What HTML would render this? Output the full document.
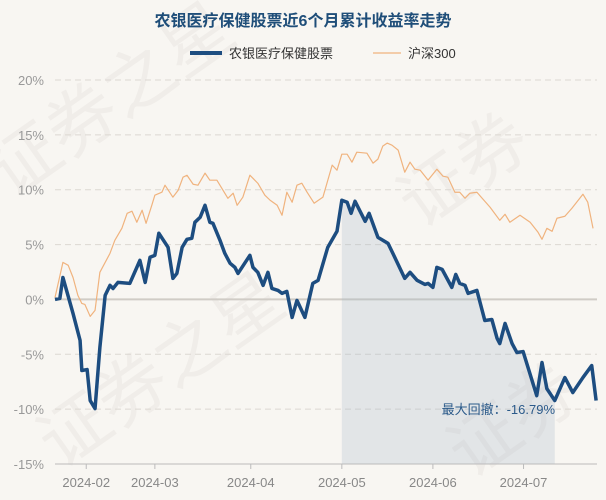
<!DOCTYPE html>
<html><head><meta charset="utf-8">
<style>
html,body{margin:0;padding:0;background:#f8f6f2;}
svg{display:block;font-family:"Liberation Sans","Noto Sans CJK SC",sans-serif;}
</style></head>
<body>
<svg id="chart" width="606" height="500" viewBox="0 0 606 500">
<rect width="606" height="500" fill="#f8f6f2"/>
<g fill="#f0ede9" font-size="70">
<text x="10" y="200" transform="rotate(-35 10 200)">证券之星</text>
<text x="60" y="470" transform="rotate(-35 60 470)">证券之星</text>
<text x="420" y="230" transform="rotate(-35 420 230)">证券</text>
<text x="470" y="480" transform="rotate(-35 470 480)">证券</text>
</g>
<text x="303" y="26" text-anchor="middle" font-size="16" font-weight="bold" fill="#1f4e79">农银医疗保健股票近6个月累计收益率走势</text>
<g>
<g><line x1="190" y1="53" x2="222" y2="53" stroke="#1d4d80" stroke-width="4"/><text x="229" y="58" font-size="13" fill="#333">农银医疗保健股票</text></g>
<g><line x1="373" y1="53" x2="401" y2="53" stroke="#f0b37e" stroke-width="1.2"/><text x="408" y="58" font-size="13" fill="#333">沪深300</text></g>
</g>
<g id="grid"></g><g id="fill"></g><g id="series"></g><g id="axes"></g>
<text x="555" y="414" text-anchor="end" font-size="13" fill="#2b5a8a">最大回撤：-16.79%</text>
</svg>
<script>
const yTicks=[20,15,10,5,0,-5,-10,-15];
const xTickLabels=["2024-02","2024-03","2024-04","2024-05","2024-06","2024-07"];
const xTickDays=[7.1,22.7,44.5,65.2,85.9,106.5];
const fundDays=[0,1.1,1.8,4.1,5.7,6.1,7.3,8.0,9.1,10.2,11.4,12.5,13.2,14.3,17.0,19.3,20.5,21.6,22.7,23.6,25.7,26.8,27.7,28.9,30.0,31.1,31.8,33.0,34.1,35.2,35.9,37.5,38.6,39.8,40.9,41.6,44.3,45.0,46.1,47.3,48.4,49.3,50.7,51.6,52.7,53.9,55.0,56.8,58.6,59.8,62.0,64.1,65.2,66.4,67.3,68.2,70.5,71.4,73.4,75.7,76.8,79.5,80.7,82.3,84.1,84.8,85.9,86.8,88.0,90.2,91.1,92.0,93.2,93.9,95.9,97.7,99.3,100.5,101.1,102.3,103.9,105.0,106.4,109.5,110.7,111.8,113.6,115.9,117.7,120.0,122.0,123.0];
const fundValues=[0,0.09,2.0,-1.28,-3.74,-6.48,-6.39,-9.22,-9.95,-4.38,0.37,1.28,1.0,1.55,1.46,3.56,1.55,3.84,4.02,6.03,4.75,1.92,2.37,4.75,5.48,5.57,7.03,7.49,8.58,7.03,6.94,5.39,4.2,3.29,2.92,2.37,4.02,2.92,2.47,1.28,2.47,1.0,0.82,0.55,0.73,-1.64,-0.09,-1.64,1.46,1.74,4.75,6.21,9.04,8.86,7.85,8.95,7.12,7.85,5.66,5.11,4.2,1.92,2.47,1.74,1.37,1.46,1.1,2.92,2.74,1.1,2.28,1.46,1.28,0.55,0.82,-1.92,-1.83,-3.56,-4.02,-2.19,-4.02,-4.84,-4.75,-8.77,-5.75,-8.13,-9.22,-7.12,-8.49,-7.12,-6.03,-9.22];
const hsDays=[0,1.8,3.0,4.1,5.2,6.1,6.8,8.0,9.1,10.2,12.5,13.6,15.2,16.4,17.5,18.6,19.8,20.7,22.0,22.7,24.3,25.0,26.8,28.0,29.1,30.0,31.4,32.5,34.1,35.2,36.8,38.2,39.3,40.5,41.4,42.7,44.3,46.1,47.7,48.9,50.5,51.6,52.7,53.9,55.0,56.1,57.3,58.9,60.9,63.0,64.1,65.2,66.4,67.5,68.6,70.9,72.3,73.4,74.5,75.5,76.6,78.0,79.5,80.7,81.8,83.0,84.8,86.8,88.2,89.3,90.9,92.0,93.2,94.3,95.9,98.9,101.1,102.3,103.4,105.7,108.0,109.8,110.7,111.8,113.0,114.1,115.9,117.5,120.0,121.1,122.3];
const hsValues=[0.18,3.38,3.11,2.0,0.37,-0.37,-0.46,-1.55,-1.0,2.47,4.2,5.39,6.48,7.85,8.04,7.03,8.13,6.94,8.58,9.5,9.77,10.41,9.32,9.95,11.14,11.32,10.5,10.41,11.51,10.87,10.87,9.95,9.22,9.68,8.58,9.32,11.32,10.59,9.5,9.04,8.58,7.67,9.77,8.86,10.41,10.59,9.77,8.77,9.32,12.24,11.78,13.24,13.24,12.51,13.42,13.33,12.42,12.79,13.97,14.25,14.06,13.61,11.6,12.51,11.87,11.78,10.87,11.87,11.23,11.14,9.77,9.77,9.22,9.68,9.77,8.4,7.21,7.76,7.03,7.67,7.03,6.12,5.48,6.48,6.21,7.4,7.58,8.31,9.59,8.86,6.48];
const ddStart=65.2, ddEnd=113.6;

const NS="http://www.w3.org/2000/svg";
const X0=55,X1=597,DMAX=123.2,YTOP=80,YBOT=464,VMAX=20,VMIN=-15;
function xs(d){return X0+d*(X1-X0)/DMAX;}
function ys(v){return YTOP+(VMAX-v)*(YBOT-YTOP)/(VMAX-VMIN);}
function mk(tag,attrs,parent){const e=document.createElementNS(NS,tag);for(const k in attrs)e.setAttribute(k,attrs[k]);parent.appendChild(e);return e;}
const grid=document.getElementById('grid'),axes=document.getElementById('axes'),series=document.getElementById('series'),fill=document.getElementById('fill');
yTicks.forEach(v=>{
  const y=ys(v);
  const l=mk('line',{x1:X0,x2:X1,y1:y,y2:y,stroke:v===0?'#d0ccc6':'#dcd8d2','stroke-width':v===0?2:1,'stroke-dasharray':v===0?'':'6,4'},grid);
  
  
  const t=mk('text',{x:44,y:y+5,'text-anchor':'end','font-size':13,fill:'#999'},axes);
  t.textContent=v+'%';
  
  
});
const ax=mk('line',{x1:X0,x2:X1,y1:YBOT,y2:YBOT,stroke:'#bbb','stroke-width':1},axes);


xTickLabels.forEach((s,i)=>{
  const x=xs(xTickDays[i]);
  const tk=mk('line',{x1:x,x2:x,y1:YBOT,y2:YBOT+5,stroke:'#bbb'},axes);
  
  
  const t=mk('text',{x:x,y:487,'text-anchor':'middle','font-size':13,fill:'#888'},axes);
  t.textContent=s;
  
  
});
let pts=[];
fundDays.forEach((d,i)=>{if(d>=ddStart&&d<=ddEnd)pts.push(xs(d)+','+ys(fundValues[i]));});
pts.push(xs(ddEnd)+','+YBOT);pts.push(xs(ddStart)+','+YBOT);
const poly=mk('polygon',{points:pts.join(' '),fill:'#9fb3c8','fill-opacity':0.25},fill);


const hs=mk('polyline',{points:hsDays.map((d,i)=>xs(d)+','+ys(hsValues[i])).join(' '),fill:'none',stroke:'#f0b37e','stroke-width':1.2,'stroke-linejoin':'round'},series);


const fd=mk('polyline',{points:fundDays.map((d,i)=>xs(d)+','+ys(fundValues[i])).join(' '),fill:'none',stroke:'#1d4d80','stroke-width':3.5,'stroke-linejoin':'round'},series);


</script>
</body></html>
